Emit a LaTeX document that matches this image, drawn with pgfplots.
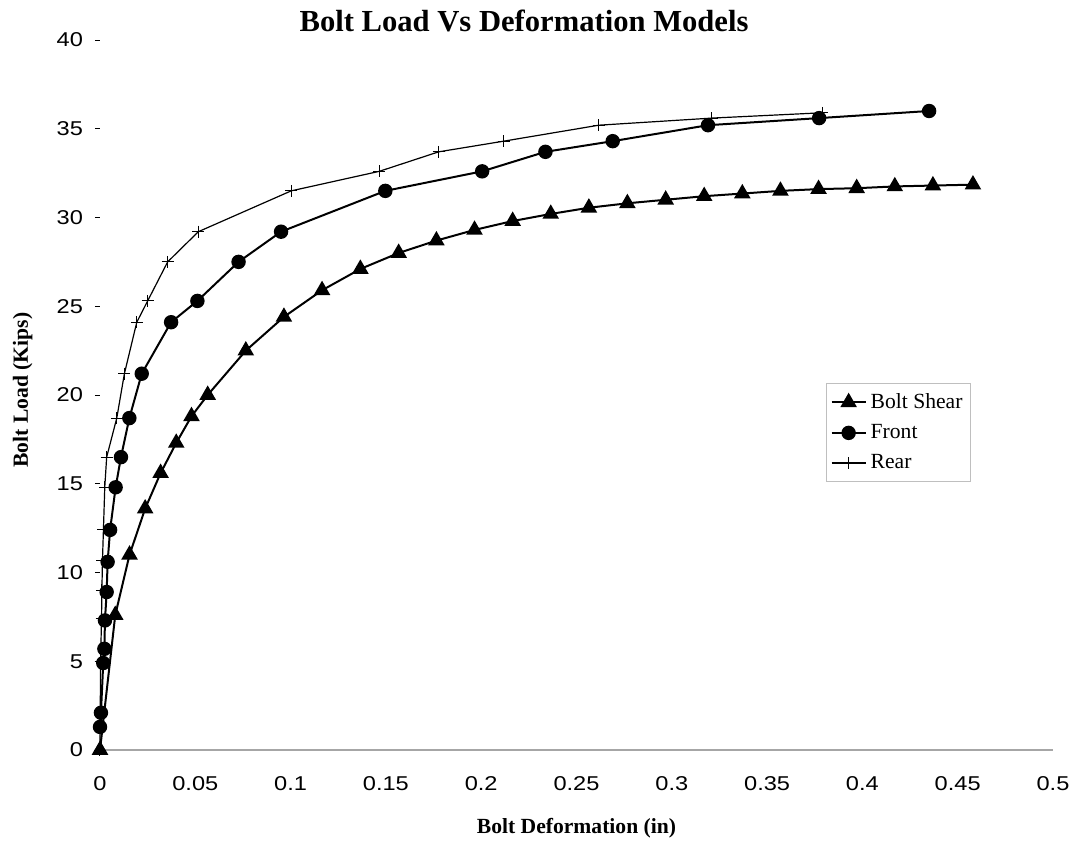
\documentclass[border=0pt]{standalone}
\usepackage{fontspec}
\setmainfont{Liberation Serif}
\newfontfamily\tickfont[FakeStretch=1.18]{Liberation Sans}
\usepackage{pgfplots}
\pgfplotsset{compat=1.18}

\begin{document}
\begin{tikzpicture}
\begin{axis}[
  name=ax,
  scale only axis,
  width=476.5pt, height=355pt,
  xmin=0, xmax=0.5, ymin=0, ymax=40,
  xtick={0,0.05,...,0.5},
  ytick={0,5,...,40},
  xticklabels={0,0.05,0.1,0.15,0.2,0.25,0.3,0.35,0.4,0.45,0.5},
  axis lines=left,
  axis line style={-},
  x axis line style={gray!70, line width=0.6pt},
  y axis line style={draw=none},
  xtick style={draw=none},
  ytick style={black, line width=0.4pt},
  tick align=outside,
  major tick length=2.5pt,
  /pgf/number format/assume math mode=true,
  ticklabel style={font=\tickfont\fontsize{10}{12}\selectfont},
  xticklabel style={yshift=-7pt},
  yticklabel style={xshift=-2.5pt},
  clip=false,
  every axis title shift=0pt,
  title={Bolt Load Vs Deformation Models},
  title style={at={(rel axis cs:0.445,1)}, anchor=base, yshift=4pt,
    font=\bfseries\fontsize{15.3}{17}\selectfont},
  xlabel={Bolt Deformation (in)},
  xlabel style={at={(rel axis cs:0.5,0)}, anchor=base, yshift=-41.5pt,
    font=\bfseries\fontsize{10.8}{12}\selectfont},
  ylabel={Bolt Load (Kips)},
  ylabel style={at={(rel axis cs:0,0.507)}, anchor=base, yshift=36pt,
    font=\bfseries\fontsize{10.8}{12}\selectfont},
  legend style={at={(rel axis cs:0.762,0.517)}, anchor=north west,
    draw=gray!50, line width=0.4pt, inner xsep=2pt, inner ysep=3pt,
    font=\fontsize{10.8}{12}\selectfont, row sep=2.5pt},
  legend cell align=left,
]
\addplot[black, line width=1pt, mark=triangle*, mark size=3.8pt,
  mark options={solid}] coordinates {
  (0,0) (0.008,7.6) (0.0155,11.0) (0.0237,13.6) (0.0318,15.6) (0.040,17.3)
  (0.048,18.8) (0.0565,20.0) (0.0765,22.5) (0.0965,24.4) (0.1165,25.9)
  (0.1366,27.1) (0.1567,28.0) (0.1765,28.7) (0.1965,29.3) (0.2165,29.8)
  (0.2365,30.2) (0.2565,30.55) (0.2767,30.8) (0.2968,31.0) (0.317,31.2)
  (0.337,31.35) (0.357,31.5) (0.377,31.6) (0.397,31.65) (0.417,31.75)
  (0.437,31.8) (0.458,31.85)
};
\addlegendentry{Bolt Shear}
\addplot[black, line width=1pt, mark=*, mark size=3.1pt] coordinates {
  (0,1.3) (0.0005,2.1) (0.0017,4.9) (0.0023,5.7) (0.0026,7.3) (0.0035,8.9)
  (0.004,10.6) (0.0053,12.4) (0.0082,14.8) (0.011,16.5) (0.0154,18.7)
  (0.0219,21.2) (0.0373,24.1) (0.0511,25.3) (0.0727,27.5) (0.095,29.2)
  (0.1497,31.5) (0.2005,32.6) (0.2337,33.7) (0.269,34.3) (0.319,35.2)
  (0.3773,35.6) (0.435,36.0)
};
\addlegendentry{Front}
\addplot[black, line width=0.6pt, mark=+, mark size=3pt,
  mark options={line width=0.5pt}] coordinates {
  (0,0) (0.0003,5.0) (0.0008,7.4) (0.001,9.0) (0.0013,10.7) (0.0018,12.4)
  (0.0025,14.8) (0.0035,16.5) (0.0088,18.7) (0.0128,21.2) (0.0193,24.1)
  (0.025,25.3) (0.0355,27.5) (0.0516,29.2) (0.1003,31.5) (0.1465,32.6)
  (0.1777,33.7) (0.2118,34.3) (0.2617,35.2) (0.321,35.6) (0.379,35.9)
};
\addlegendentry{Rear}
\end{axis}
\pgfresetboundingbox
\path (ax.south west) ++(-50pt,-45.5pt) rectangle ++(540.5pt,420.5pt);
\end{tikzpicture}
\end{document}
